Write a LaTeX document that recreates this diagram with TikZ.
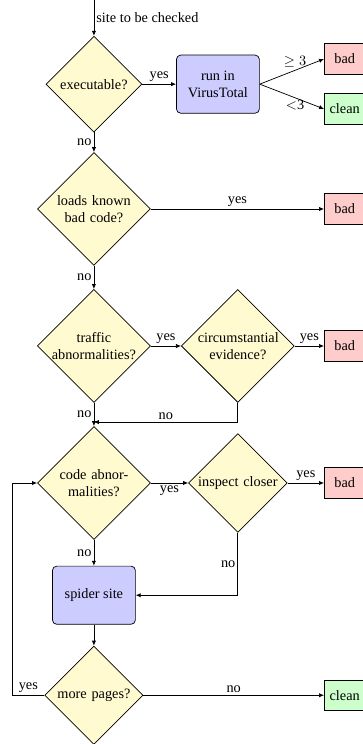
\documentclass[tikz,border=0pt]{standalone}
\usepackage{fontspec}
\setmainfont{Liberation Serif}
\usepackage{tikz}
\usetikzlibrary{arrows.meta,positioning,calc,shapes.geometric}
\definecolor{decfill}{RGB}{255,250,208}
\definecolor{procfill}{RGB}{204,204,255}
\definecolor{badfill}{RGB}{255,204,204}
\definecolor{cleanfill}{RGB}{204,255,204}

\begin{document}
\begin{tikzpicture}[
    decision/.style={draw=black, line width=0.5pt, diamond, aspect=1,
                inner sep=1pt, text width=56pt, align=center, fill=decfill},
    process/.style={draw=black, line width=0.5pt, rectangle, rounded corners=3pt,
                minimum width=2.04cm, minimum height=1.43cm, align=center,
                fill=procfill},
    verdict/.style={draw=black, line width=0.5pt, rectangle, anchor=west,
                minimum width=1.0cm, minimum height=0.75cm, inner sep=3pt},
    arrow/.style={->, line width=0.5pt, >={Latex[length=3.5pt,width=3pt]}},
    tag/.style={inner sep=1.5pt}
  ]
    \useasboundingbox (0,0) rectangle (8.91,-18.30);

    % Main column
    \coordinate (start) at (2.31, 0);
    \node[decision] (exe)    at (2.31, -2.07)  {executable?};
    \node[decision] (loads)  at (2.31, -5.14)  {loads known bad code?};
    \node[decision] (traffic) at (2.31, -8.51) {traffic\\\hbox to 56pt{\hss abnormalities?\hss}};
    \node[decision] (code)   at (2.31, -11.88) {code abnor-\\malities?};
    \node[process]  (spider) at (2.31, -14.64) {spider site};
    \node[decision] (more)   at (2.31, -17.10) {more pages?};

    % Second column
    \node[process]  (vt)      at (5.36, -2.07)  {run in\\VirusTotal};
    \node[decision] (circ)    at (5.85, -8.51)  {circumstantial evidence?};
    \node[decision] (inspect) at (5.85, -11.88) {inspect closer};

    % Verdicts
    \node[verdict, fill=badfill]   (badA)   at (7.97, -1.45)  {bad};
    \node[verdict, fill=cleanfill] (cleanA) at (7.97, -2.68)  {clean};
    \node[verdict, fill=badfill]   (badB)   at (7.97, -5.14)  {bad};
    \node[verdict, fill=badfill]   (badC)   at (7.97, -8.51)  {bad};
    \node[verdict, fill=badfill]   (badD)   at (7.97, -11.88) {bad};
    \node[verdict, fill=cleanfill] (cleanB) at (7.97, -17.10) {clean};

    % Main flow
    \draw[arrow] (start) -- node[tag,right] {site to be checked} (exe);
    \draw[arrow] (exe)     -- node[tag,left] {no} (loads);
    \draw[arrow] (loads)   -- node[tag,left] {no} (traffic);
    \draw[arrow] (traffic) -- node[tag,left] {no} (code);
    \draw[arrow] (code)    -- node[tag,left] {no} (spider);
    \draw[arrow] (spider)  -- (more);

    % VirusTotal
    \draw[arrow] (exe) -- node[tag,above] {yes} (vt);
    \draw[arrow] (vt.east) -- node[tag,above,pos=0.55] {$\geq 3$} (badA.west);
    \draw[arrow] (vt.east) -- node[tag,below,pos=0.55] {$<$3} (cleanA.west);

    % Yes branches
    \draw[arrow] (loads)   -- node[tag,above] {yes} (badB);
    \draw[arrow] (traffic) -- node[tag,above] {yes} (circ);
    \draw[arrow] (circ)    -- node[tag,above] {yes} (badC);
    \draw[arrow] (code)    -- node[tag,below] {yes} (inspect);
    \draw[arrow] (inspect) -- node[tag,above] {yes} (badD);
    \draw[arrow] (more)    -- node[tag,above] {no} (cleanB);

    % Elbows back
    \draw[arrow] (circ.south) |- node[tag,above,pos=0.75] {no} ($(code.north)+(0,0.1)$);
    \draw[arrow] (inspect.south) |- node[tag,left,pos=0.25] {no} (spider.east);

    % Loop for more pages
    \coordinate (loop) at (0.30, -17.10);
    \draw[arrow] (more.west) -- node[tag,above,pos=0.5] {yes} (loop) |- (code.west);
\end{tikzpicture}
\end{document}
